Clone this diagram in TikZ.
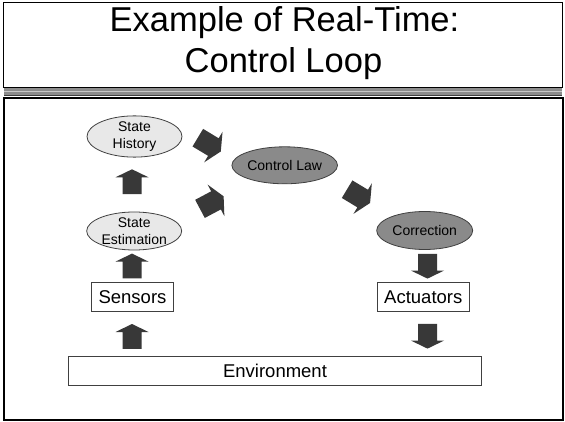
\documentclass[tikz,border=0pt]{standalone}
\usepackage{fontspec}
\setmainfont{Liberation Sans}
\usetikzlibrary{shapes.geometric}
\definecolor{arrowfill}{HTML}{383838}
\definecolor{edgegray}{HTML}{404040}
\definecolor{lightfill}{HTML}{E8E8E8}
\definecolor{darkfill}{HTML}{8A8A8A}
\definecolor{bandgray}{HTML}{8C8C8C}
\definecolor{bandlight}{HTML}{C8C8C8}
\tikzset{
  blockarr/.pic={\fill[arrowfill] (-9.5,-12.4) -- (-9.5,4.4) -- (-16.5,4.4) -- (0,12.4) -- (16.5,4.4) -- (9.5,4.4) -- (9.5,-12.4) -- cycle;},
  lightell/.style={ellipse, draw=edgegray, line width=0.8pt, fill=lightfill, inner sep=0pt, align=center, font=\fontsize{14}{16.5}\selectfont},
  darkell/.style={ellipse, draw=edgegray, line width=0.8pt, fill=darkfill, inner sep=0pt, align=center, font=\fontsize{14}{16.5}\selectfont},
  plainbox/.style={rectangle, draw=edgegray, line width=0.8pt, fill=white, inner sep=0pt, minimum height=29pt, font=\fontsize{18.5}{21}\selectfont},
  titletext/.style={anchor=base, inner sep=0pt, font=\fontsize{34.5}{41}\selectfont}
}
\begin{document}
\begin{tikzpicture}[x=1pt,y=1pt]
\useasboundingbox (0,0) rectangle (565,-422);
\fill[white] (0,0) rectangle (565,-422);
% title box
\draw[black, line width=1.5pt] (3.5,-2.5) rectangle (562.3,-87.3);
% band
\fill[bandgray] (4.2,-88) rectangle (562,-95.6);
\draw[bandlight, line width=0.8pt] (4.2,-91.7) -- (562,-91.7);
\draw[edgegray, line width=1pt] (4.2,-95.8) -- (562,-95.8);
% lower frame
\draw[black, line width=2pt] (3.7,-97.7) rectangle (563.3,-420.3);
% title
\node[titletext] (t1) at (284.5,-31.7) {Example of Real-Time:};
\node[titletext] (t2) at (283.5,-73) {Control Loop};
% ellipses
\node[lightell, minimum width=95pt, minimum height=37pt] (hist) at (134.5,-136.5) {State\\History};
\node[lightell, minimum width=95pt, minimum height=38pt] (est) at (134.2,-231) {State\\Estimation};
\node[darkell, minimum width=96pt, minimum height=37pt] (law) at (284.7,-165.3) {Control Law};
\node[darkell, minimum width=96pt, minimum height=38pt] (corr) at (424.7,-230.5) {Correction};
% boxes
\node[plainbox, minimum width=81.7pt] (sens) at (132.5,-297.2) {Sensors};
\node[plainbox, minimum width=92pt] (act) at (423.3,-297.2) {Actuators};
\node[plainbox, minimum width=413.4pt] (env) at (275,-370.5) {Environment};
% block arrows
\pic at (132,-181.7) {blockarr};
\pic at (132,-266) {blockarr};
\pic at (132,-336.4) {blockarr};
\pic[rotate=180] at (427.5,-266.2) {blockarr};
\pic[rotate=180] at (427.5,-336.2) {blockarr};
\pic[rotate=-121, scale=1.08] at (209.3,-144.6) {blockarr};
\pic[rotate=-62, scale=1.08] at (211.8,-202.6) {blockarr};
\pic[rotate=-121, scale=1.08] at (358.6,-196.1) {blockarr};
\end{tikzpicture}
\end{document}
